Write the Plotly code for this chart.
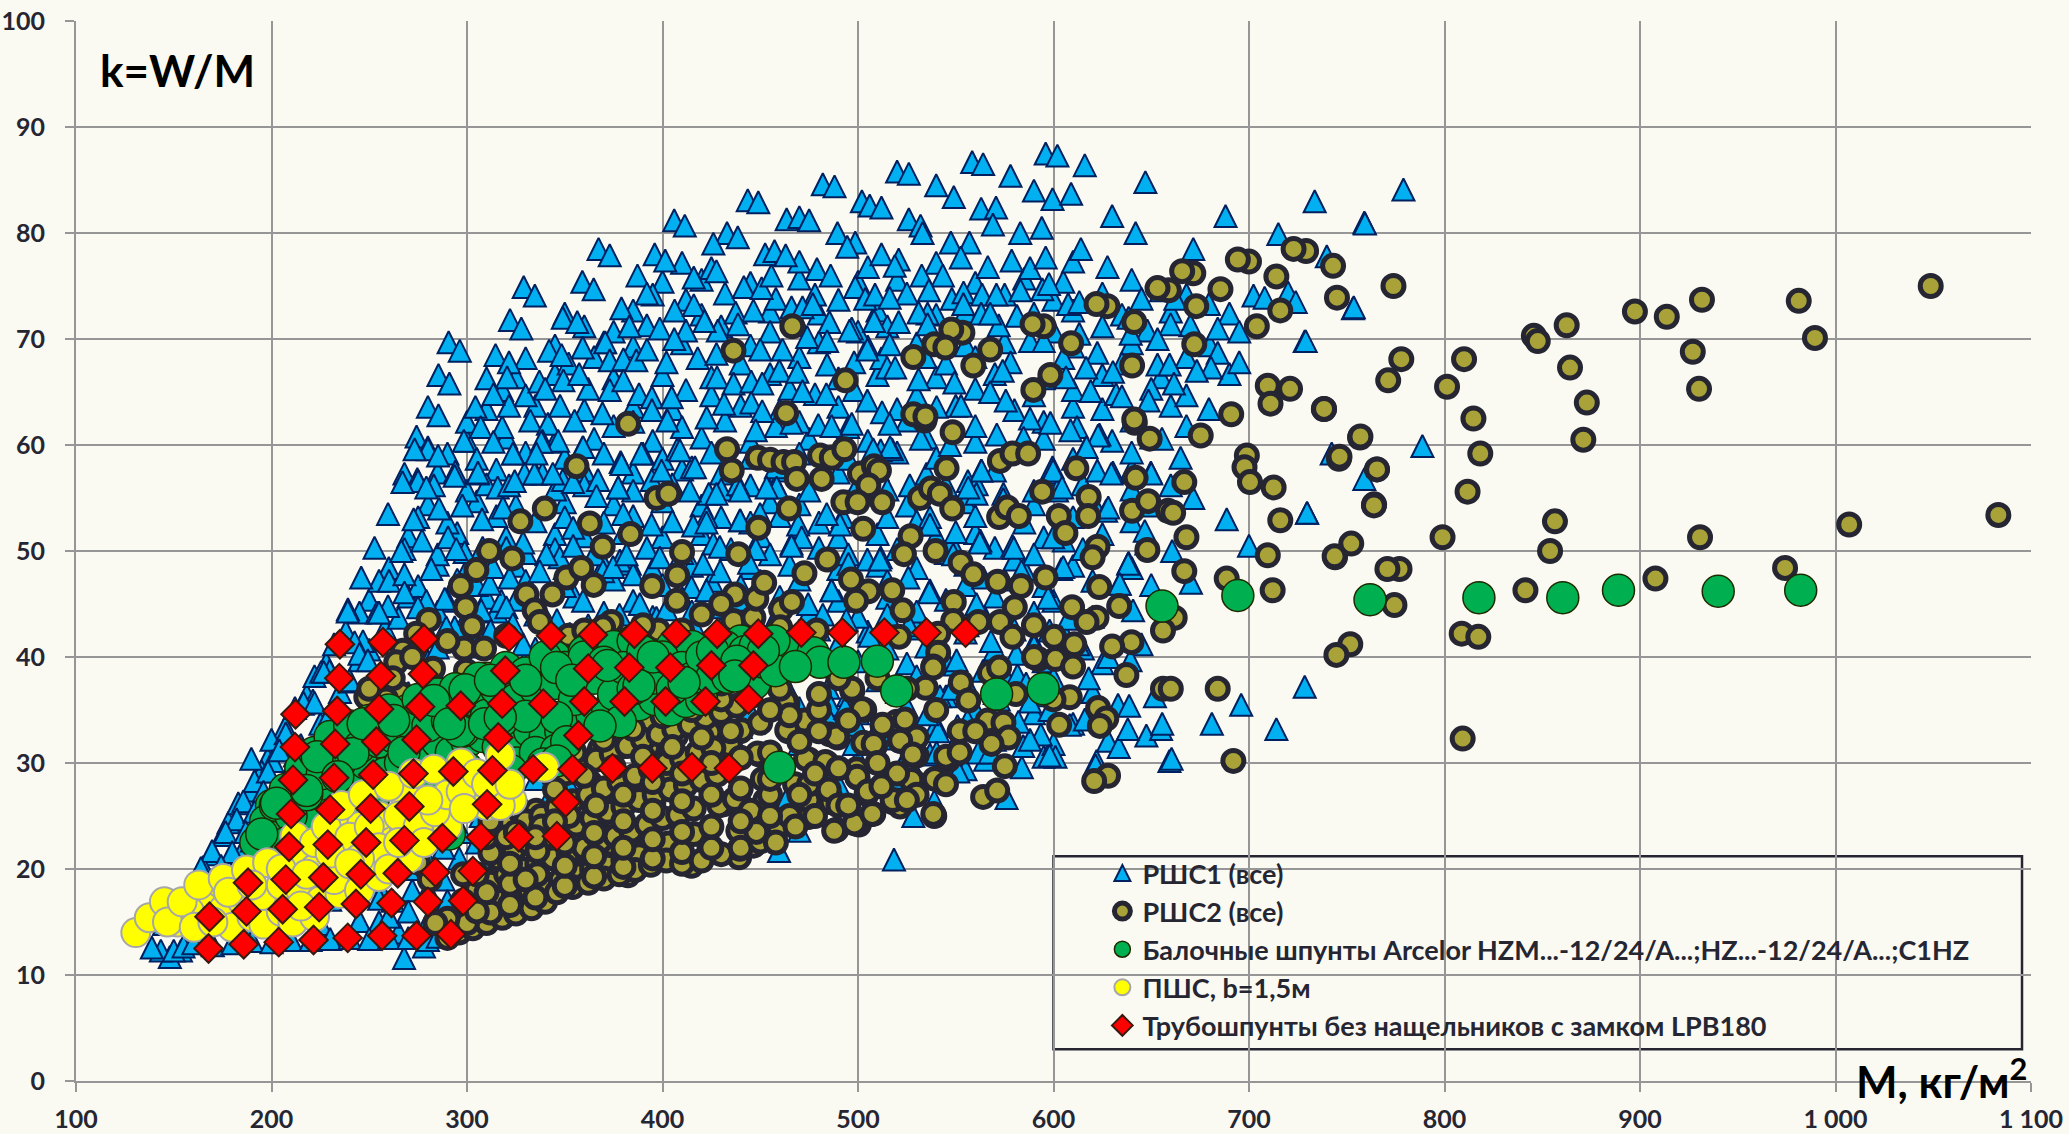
import plotly.graph_objects as go

x_tick_values = [100,200,300,400,500,600,700,800,900,1000,1100]
x_tick_labels = ["100","200","300","400","500","600","700","800","900","1 000","1 100"]
y_tick_values = [0,10,20,30,40,50,60,70,80,90,100]

names = ["РШС1 (все)","РШС2 (все)","Балочные шпунты Arcelor HZM...-12/24/A...;HZ...-12/24/A...;C1HZ","ПШС, b=1,5м","Трубошпунты без нащельников с замком LPB180"]

rsc1 = [
(400,75.4),(420,75.6),(445,75.3),(470,75.7),(500,75.4),(520,75.6),(560,75.3),(585,75.7),(605,75.4),(640,75.6),
(350,72.4),(385,72.7),(420,72.3),(455,72.6),(480,72.4),(510,72.7),(540,72.3),(555,72.6),(590,72.4),(610,72.7),(635,72.3),(660,72.6),(690,72.4),
(345,69.4),(370,69.7),(385,69.3),(410,69.6),(445,69.4),(480,69.7),(505,69.3),(530,69.6),(555,69.4),(575,69.7),(610,69.3),(640,69.6),(680,69.4),
(325,66.4),(345,66.7),(375,66.3),(400,66.6),(425,66.4),(455,66.7),(490,66.3),(510,66.6),(540,66.4),(570,66.7),(595,66.3),(625,66.6),(655,66.4),(690,66.7),
(310,63.4),(335,63.7),(360,63.3),(385,63.6),(405,63.4),(440,63.7),(460,63.3),(490,63.6),(520,63.4),(550,63.7),(580,63.3),(610,63.6),(625,63.4),(660,63.7),
(300,60.4),(320,60.7),(345,60.3),(365,60.6),(395,60.4),(420,60.7),(445,60.3),(475,60.6),(505,60.4),(535,60.7),(560,60.3),(595,60.6),(630,60.4),(650,60.7),
(285,57.4),(315,57.7),(335,57.3),(360,57.6),(385,57.4),(410,57.7),(430,57.3),(460,57.6),(490,57.4),(510,57.7),(535,57.3),(570,57.6),(600,57.4),(640,57.7),
(280,54.4),(305,54.7),(325,54.3),(350,54.6),(375,54.4),(400,54.7),(420,54.3),(455,54.6),(470,54.4),(495,54.7),(525,54.3),(555,54.6),(590,54.4),(620,54.7),(650,54.3),
(270,51.4),(295,51.7),(320,51.3),(345,51.6),(360,51.4),(380,51.7),(400,51.3),(420,51.6),(450,51.4),(470,51.7),(490,51.3),(510,51.6),(540,51.4),(560,51.7),(595,51.3),(625,51.6),
(260,48.4),(285,48.7),(300,48.3),(325,48.6),(350,48.4),(370,48.7),(395,48.3),(415,48.6),(445,48.4),(465,48.7),(490,48.3),(510,48.6),(530,48.4),(555,48.7),(585,48.3),(610,48.6),(640,48.4),
(250,45.4),(270,45.7),(290,45.3),(310,45.6),(325,45.4),(355,45.7),(385,45.3),(410,45.6),(440,45.4),(460,45.7),(490,45.3),(515,45.6),(545,45.4),(570,45.7),(600,45.3),(635,45.6),
(238,42.4),(258,42.7),(280,42.3),(300,42.6),(320,42.4),(345,42.7),(365,42.3),(390,42.6),(410,42.4),(430,42.7),(455,42.3),(480,42.6),(505,42.4),(530,42.7),(555,42.3),(580,42.6),(605,42.4),
(228,39.4),(245,39.7),(262,39.3),(280,39.6),(300,39.4),(330,39.7),(360,39.3),(385,39.6),(415,39.4),(440,39.7),(465,39.3),(500,39.6),(525,39.4),(545,39.7),(570,39.3),(595,39.6),(625,39.4),
(218,36.4),(235,36.7),(252,36.3),(270,36.6),(290,36.4),(410,36.7),(440,36.3),(465,36.6),(495,36.4),(520,36.7),(545,36.3),(570,36.6),(595,36.4),(620,36.7),
(207,33.4),(225,33.7),(242,33.3),(262,33.6),(440,33.4),(480,33.7),(510,33.3),(540,33.6),(575,33.4),(610,33.7),
(198,30.4),(212,30.7),(232,30.3),(250,30.6),(500,30.4),(525,30.7),(565,30.3),(595,30.6),
(190,27.4),(205,27.7),(225,27.3),(240,27.6),(178,24.4),(195,24.7),(212,24.3),(230,24.6),(170,21.4),(185,21.7),(200,21.3),(220,21.6),(240,21.4),(161,18.5),(175,18.7),(190,18.3),(210,18.6),(230,18.4),(245,18.7),
(255,15),(265,14),(272,18),(280,18),(288,19),(296,21),(305,22.5),(262,17),(270,20),(278,21.5),(288,22),(297,23.5),(307,25),(315,26.5),(325,27.5),(335,28.5),(345,27),(352,28),(315.8,21.9),(255,18.3),(285,16),(295,16.5),
(145,14.8),(165,15.2),(185,14.6),(205,15.3),(225,14.8),(245,15.1),(155,17),(170,17.4),(190,16.6),(210,17.3),(230,17.1),(255,17.2),(165,20.2),(180,19.7),(195,20.3),(215,19.8),(235,20.4),(175,23.2),(190,22.7),(205,23.4),(225,23),(183,26.2),(198,25.7),(215,26.3),(235,25.9),(195,29.2),(208,28.7),(225,29.3),(245,29),(480,29.3),(530,28.8),(555,29.4),(200,32.2),(215,31.7),(235,32.3),(255,32),(470,31.8),(515,32.3),(550,31.9),(570,32.2),(600,31.8),
(212,35.2),(230,34.7),(248,35.3),(270,34.9),(420,35.3),(445,34.8),(470,35.2),(500,34.7),(525,35.3),(560,35),(590,34.7),(625,35.2),
(222,38.2),(240,37.7),(258,38.3),(285,38),(345,37.8),(375,38.3),(410,37.7),(435,38.2),(455,37.8),(490,38.3),(510,37.8),(530,38.2),(555,37.7),(575,38.3),(600,38),
(232,41.2),(250,40.7),(270,41.3),(285,40.9),(305,41.3),(335,40.8),(355,41.2),(375,40.8),(400,41.3),(420,40.7),(445,41.2),(470,40.8),(490,41.3),(515,40.8),(540,41.2),(570,40.7),(590,41.3),(615,40.8),(645,41.2),
(245,44.2),(265,43.7),(285,44.3),(300,43.8),(315,44.3),(340,43.7),(370,44.2),(395,43.8),(415,44.3),(445,43.7),(475,44.2),(500,43.8),(530,44.3),(565,43.7),(590,44.2),(620,43.8),
(255,47.2),(275,46.7),(295,47.3),(305,46.8),(330,47.2),(350,46.7),(375,47.3),(400,46.8),(425,47.2),(440,46.7),(470,47.3),(500,46.7),(515,47.2),(555,46.8),(575,47.3),(595,46.7),(620,47.2),(650,46.8),
(268,50.2),(285,49.7),(308,50.3),(330,49.8),(345,50.2),(365,49.7),(392,50.3),(410,49.8),(435,50.2),(455,49.7),(480,50.3),(495,49.7),(520,50.2),(545,49.8),(570,50.3),(590,49.7),(615,50.2),
(275,53.2),(290,52.7),(315,53.3),(335,52.8),(350,53.2),(370,52.7),(385,53.3),(405,52.8),(430,53.2),(445,52.7),(460,53.3),(480,52.7),(515,53.2),(530,52.8),(560,53.3),(585,52.7),(610,53.2),(640,52.8),
(283,56.2),(300,55.7),(310,56.3),(345,55.8),(360,56.2),(385,55.7),(405,56.3),(430,55.8),(445,56.2),(475,55.7),(500,56.3),(515,55.8),(545,56.2),(590,55.7),(615,56.3),(640,55.8),(660,56.2),
(290,59.2),(305,58.7),(330,59.3),(350,58.8),(370,59.2),(400,58.7),(425,59.3),(445,58.8),(470,59.2),(495,58.7),(520,59.3),(540,58.8),(575,59.2),(610,58.7),(640,59.3),(665,58.8),
(300,62.2),(318,61.7),(355,62.3),(375,61.8),(385,62.2),(410,61.7),(432,62.3),(458,61.8),(470,62.2),(495,61.7),(525,62.3),(560,61.8),(595,62.2),(612,61.7),(640,62.3),(668,61.8),
(318,65.2),(330,64.7),(362,65.3),(388,64.8),(412,65.2),(425,64.7),(465,65.3),(478,64.8),(498,65.2),(530,64.7),(560,65.3),(590,64.7),(610,65.2),(632,64.8),(650,65.3),(668,64.7),
(330,68.2),(352,67.7),(365,68.3),(402,67.8),(418,68.2),(440,67.7),(470,68.3),(498,67.8),(512,68.2),(545,67.7),(560,68.3),(578,67.8),(605,68.2),(635,67.7),(668,68.3),(695,67.8),
(360,71.2),(375,70.7),(392,71.3),(412,70.8),(430,71.2),(455,70.7),(470,71.3),(500,70.7),(515,71.2),(548,70.8),(572,71.3),(600,70.7),(625,71.2),(648,70.8),(670,71.3),(695,70.7),
(395,74.2),(412,73.7),(432,74.3),(458,73.8),(478,74.2),(490,73.7),(525,74.3),(548,73.8),(575,74.2),(600,73.7),(625,74.3),(645,73.8),(668,74.2),
(410,77.2),(425,76.7),(470,77.3),(505,76.8),(540,77.2),(588,76.7),(610,77.3),
(596,87.5),(602,87.3),(616,86.4),(558.4,86.7),(564,86.5),(520,85.8),(526,85.6),(482,84.6),(488,84.4),(443.6,83.1),(449,82.9),(578,85.4),(590,84),(540,84.5),(549,83.4),(599.5,83.2),(609,83.7),(647,84.8),(502,83),(506,82.6),(512,82.4),(463.5,81.3),(470,81.5),(475,81.2),(630,81.6),(688,81.6),(733.6,83),(759,81),(715,79.9),(526,81.3),(532,80.7),(533,80),(563,82.3),(570.6,82.4),(569,80.8),(583,80),(594,80.5),(642,80),(614,78.5),(627.6,76.8),(671.5,78.5),(433,80),(438.5,79.6),(426,79),(489.5,80),(498.6,79.1),(494.5,78.7),(452.5,78),(457.3,78.3),(463,77.9),(512,78),(520.8,77.5),(518.8,76.9),(547.5,79.1),(557,79.1),(552.6,77.7),(566.4,76.8),(578.6,77.4),(596,77.7),(479,76.6),(486,76),(532.6,76),(543.4,76),(554,74.4),(779,84.1),
(290.6,69.7),(296.3,68.9),(285.4,66.6),(291,65.8),(280,63.6),(285.4,62.8),(274.2,60.8),(280,59.8),(268,57.3),(274.6,56.8),(294,57.5),(314.6,68.5),(321.5,67.8),(320.5,66.4),(310,66.3),(329,74.9),(334.7,74.1),(322,71.8),(327.8,71),(359,75.4),(364.8,74.7),(367.3,78.5),(373,77.9),(396,78),(401.4,77.4),(406,81.2),(411.4,80.7),(387.2,76),(392,74.3),(379,72.9),(383,71.2),(349,72),(356.4,71.6),(398.6,71),(406.2,72.7),(416,75.8),(416,73.2),(342,68.9),(348.4,68.5),(359.2,69.2),(370.7,69.7),(373,68),(380,68.1),(386.6,68),(392,69),(406,70),(337,66),(340,65.3),(349.3,66.1),(357.4,66.7),(373,65.2),(380,66.1),(321.5,63.7),(304.3,63.6),(313.5,64.8),(332.4,62.3),(341.4,62),(347.6,63.7),(369.3,63),(394.6,64.5),(404.7,64.5),(394.6,63.3),(402.5,62.3),(307,61.7),(298.4,60.4),(313.5,60.3),(323.7,59.2),(338.6,60.4),(346.6,60.4),(359.2,59.8),(378.6,58.4),(390,59.2),(407.5,59.6),(305.5,57.3),(315.7,56),(329.4,57.3),(338.6,57.3),(349,56.7),(367,56.7),(377.4,56),(394.5,56.7),(415,57.9),
(441.6,74.9),(450.7,74.8),(455.7,76),(427.6,76.4),(498.6,74.9),(503.7,73.8),(508.7,74.2),(516.2,73.9),(536.3,74.6),(563.5,74.2),(570.8,74.2),(583.1,74.6),(594.3,74.7),(597.7,75.2),(607.5,73.3),(613.2,73.5),(655,74.6),(662.3,73.8),(679.5,73.3),(702.3,74.1),(708,73.9),(720,74.4),(723.9,73.5),(753.2,72.9),(728.5,69.8),
(437.4,72.5),(446.5,72.7),(466,73),(471.6,73),(476.9,73.3),(485.4,71.6),(496.8,71),(508.2,71.7),(520.8,71.6),(535.6,72.4),(531,72.5),(535.6,71.4),(553.9,73.3),(563,72.4),(567.6,72.4),(581.3,72.2),(613.2,70.5),(638.4,72),(639.5,70.5),(659.9,71.4),(684,71),(653.2,70),(428.3,70.8),(438.6,71.4),(421.5,71.7),(427.6,68.6),(450,69),(461.4,69),(474,70.2),(484.2,69.8),(495.7,70.8),(504.8,69),(516.2,69.5),(534.5,68.3),(588,69.8),(595,69.8),(622.4,68.7),(653.2,67.6),(659.4,67.6),(684,68.7),(680.6,67.3),(673.3,67),(630.4,66.9),(616.7,67.3),
(427.9,66.4),(436.3,65.8),(445.4,66),(451,65.8),(459.8,67),(469,66.9),(484.2,67.6),(514.9,67.3),(519,67.3),(531,66.2),(549.3,65.9),(574,67),(606.4,66.4),(619,65.1),(635,64.6),(648.6,64.2),(679.5,63.4),(661.6,65.8),(567.6,65),(575.6,64.2),(552.7,63.7),(588,62.5),(598.4,62.1),(608.7,61.4),(623.5,61),(431.5,63.9),(445.4,64),(451,63.2),(422.6,62.6),(471.6,65.1),(483.8,64.8),(504.8,64.2),(512.3,63.1),(540.2,63.6),(571,61),(584.7,60.7),(655.5,60.6),
(447.7,61.4),(466,62.1),(479.7,61.9),(486.5,61.8),(496.8,62),(516.2,62),(532.2,60.6),(616.7,59.8),(622.4,57.6),(630.4,57.4),(599.5,57.9),(563,57.6),(547,60),(649.8,57.4),(671.5,55),(688.6,53),(729.7,53.6),(700,50.5),(660.7,50),(647.5,50.7),(638.4,48.9),(670.3,47),(633.8,46.9),(604,48.3),(605.3,51),(579,50.5),(562.6,51),(548.2,50.7),(526.5,56.2),(511.6,59.5),(517.4,59.6),(466,50.7),(447.7,50.2),(429.5,48.1),(450,47.2),(486.5,46.3),(504.8,49.2),(511.6,49.4),(536.8,46.3),(580,49.2),(574.4,55.4),(601.8,55.7),(626.9,53.8),(422.6,53.2),(439.7,52.9),(458,56.2),(458,57.9),(438.6,56.3),(423.7,55.4),(469.4,52.5),(426,50.7),(444.3,48.9),(492.2,53.2),(536.8,52.5),(536.8,53.2),(556.2,56.6),(560.7,56.3),
(259.6,53.5),(272.7,53),(252.7,50.3),(266.4,50),(277,51),(245.9,47.5),(260.1,47.2),(268,47.8),(239.1,44.5),(253.9,44.2),(259.6,44.8),(281.7,48.3),(268,46.1),(288.6,45.5),(275,56.6),(267,56.5),(279.2,56),(280,59.6),(273.2,59.6),(285.2,59),(293.7,57.1),(305.6,57.4),(321.5,56.2),(324.4,56.6),(334.5,57.3),(343.9,57.3),(354.2,56.5),(285.7,54),(297.6,54.3),(307.7,53),(318.4,54.1),(290.3,51.3),(298.8,49.9),(294.5,50.2),(323.5,59.2),(338,60.3),(335.5,59.2),(359.4,59.8),(379,58.2),(389.2,59.2),(399.5,57.6),(408.9,59.5),(416.6,57.9),(366.2,55.2),(379.9,53.5),(354.3,52.2),(347.4,49.4),(340.6,49.7),(394.4,52.5),(377.3,56),(414,55.7),(415.7,52.4),(422.5,52.7),(427.6,55.4),(398.6,49.4),(383.3,48.8),(378.2,49.1),(385,47.8),(420.8,48.8),(429.3,50.4),(328.7,50.8),(320.1,50.3),(337.2,48.1),(369.6,48.1),(354.3,50.5),(359.4,45.3),(317.6,45.3),(311.6,46.9),(374.7,48.5),(388.4,45),(396.9,43.7),(414.8,46.6),(422.5,46.3),(431,44.7),(352.6,42.2),(381.6,49.7),(320.1,44.7),(313.3,48.5),(321.8,47.5),(307.3,44.4),(279.2,45.3),(274.9,44.7),(293.7,42.8),(289.4,42.8),(323.5,43.1),(328.7,41.2),(246.8,41.5),(242.5,41.4),(225.4,38.6),(229.7,38.7),(221.2,35.9),(216,35.6),(240,37.8),(245,40.3),(249.3,39.7),
(189.7,30.4),(191.3,28.3),(239,44.3),(255,44.2),(226.7,38.6),(216.4,35.7),(222,35.7),(207.3,32.8),(200.5,30.2),(204,31.2),(185.6,26.4),(182.2,24.7),(176.5,23.5),(169.6,21.7),(163.9,20.1),(153.7,12.3),(148,11.7),(143.4,12.3),(138.8,12.6),(267.8,11.6),(278,12.7),(198.2,29.2),(195.9,27.3),(191.3,25.4),(186.8,23.5),(179.9,21.6),(174.2,20.3),
(150,12.3),(155,12.7),(160,13),(170,12.8),(180,13),(190,13.2),(200,13.1),(210,13.3),(220,13.3),(230,13.4),(240,13.5),(250,13.4),(260,13.5),(270,13.5),(280,13.3),(285,13.6),(260,15.5),(270,16),(280,15),(290,17),(300,18),(310,20),(320,22),(330,24),(340,26),(360,20),(375,21),(395,24),(410,24),
(459.6,21.7),(470,23.6),(518.4,20.9),(528.3,25),(539,26.4),(601,30.6),(583.8,29.6),(584.5,31.6),(593.5,32.7),(588,32.2),(561.5,31),(567.5,31),(550.9,33.5),(541,33),(535.4,34.6),(541.9,36.3),(549.6,39.3),(581.6,38.3),(588,35.8),(608.3,33.6),(616,34.1),(622,30.2),(627.9,32.1),(633.4,31.5),(633,35.5),(638.7,35.4),(647.5,32.6),(655,33.2),(659.3,30.2),(651.9,36.3),(518,28.6),(509.9,30.5),(490,28),(498,31.8),(484.8,37.1),(485.6,35.5),(484,34.6),(493.4,35.2),(499,33.6),(522.3,29.6),(536.8,30.8),(551.3,29.2),(540.2,31),(576,26.7),(463.5,26.6),(485.7,28.3),
(759.3,80.9),(739.8,77.8),(753.6,73),(729,69.8),(788.7,59.9),(742.3,59.2),(759,56.8),(729.7,53.6),(728.5,37.2),(696,35.5),(714,33.2),(681,33.7),(660.4,30.4),(655.6,33.7),(638,33.2),(621.5,29.8),(598,30.7),(582,33.9),
(563.2,57.6),(560.6,55.4),(556.4,56),(574.3,54.9),(579.7,50.3),(562.3,50.8),(599.8,57.6),(604.4,56),(629.6,57.3),(650,57.3),(628,54.1),(646.7,51.9),(638.2,48.8),(605,48.5),(622.8,60.9),(616.9,59.8),(597.3,45.6),(633.9,46.9),(640.7,44.4),(607.5,43.6),(536.5,46.1),(525.7,47.5),(511.2,49.2),(495.1,48.8),(486.5,46.3),(474.5,45),(536.8,52.5),(550,51.8),(548.7,49.7),(564,47.5),(583.6,48.1),(516.4,59.8),(507.8,59.6),(490.8,52.5),(484,53.5),(471.2,51.3),(466,50.5),(458.4,56),(439.7,55.7),(453.3,56),(439.7,52.9),(449.9,53.5),(560.6,45),(581,40.3),(550.4,39.7),(564,38.7),(639.4,39.7),(599.8,51.3),(604,41.9),(612.6,41.2),(586,37.5),
(434,42.5),(445,41),(456,43),(470,42.5),(482,44),(494,43.5),(506,42),(515,44),(526,43),(535,41),(556,43),(568,41.5),(590,41),(598,42.5),(548,37),(556,34),(572,36),(598,35),(618,38),(628,40),(300,41),(312,42.5),(335,44),(346,43.5),(362,43),(378,44),(402,44.5),(416,43),(424,41.5),
]

rsc2 = [
(433,59.6),(435.4,57.6),(448.7,58.8),(455,58.6),(461.9,58.4),(467.3,58.4),(468.7,56.8),(481.4,56.8),(480.6,59),(486.6,58.8),(493,59.6),(501,57.3),(508.2,58),(510.7,57.6),(505.3,56.2),(492.5,54.6),(499.8,54.6),(512.4,54.6),(502.7,52.1),(464.7,54),(449,52.2),(438.8,49.7),(484.3,49.2),(472.6,47.9),(437,45.9),(460.7,44.5),(466.2,45.2),(436.3,43.4),(446.5,43.7),(460.2,42.8),(478.9,42.5),
(496.4,47.3),(505.3,46.2),(499,45.3),(517.5,46.3),(522.8,44.4),(526.9,51.4),(523.5,49.7),(539.7,50),(552.5,48.9),(559,47.8),(571.4,47.1),(583.3,46.7),(580.2,44.7),(572.6,43.3),(579,41.9),(595.9,47.5),(549,45.2),(548.7,43.4),(561.5,43.3),(521,41.9),(541,42.2),(541,40.4),(538.5,39.1),(531.7,55),(537.3,55.9),(541.9,55.4),(548.2,54),(545.3,57.8),(548.4,61.2),(572.6,58.5),(579,59.2),(587,59.2),(572.2,53.2),(576.3,54.1),(582.3,53.3),(594.2,55.6),(611.7,57.8),(618,55.1),(602.7,53.3),(617.7,53.3),(606.1,51.7),(622.5,50.4),(620,49.4),(623.4,46.6),(633.6,44.8),(609.5,44.7),(622,43.7),(616.9,43.3),(600.3,41.9),(610.6,41.2),(592.2,39.8),(601,39.8),(610,39.1),(639.9,41.4),(637.3,38.3),(656,37),(648,50.1),(642,56.9),(640.2,53.8),(648.4,54.7),(658.6,53.8),(649.2,60.6),(641.6,62.1),(534,62.3),
(538.5,39),(534.6,37.1),(552.6,37.6),(556.4,35.9),(567.5,38.5),(572.2,39),(580.7,36.5),(608.3,36.2),(602.9,33.6),(566.3,34),(574.4,33.8),(577,32.4),(568.3,31.8),(575.1,29.7),(564,26.8),(571.2,27.4),(622.8,35.2),(627,34.2),(623.7,33.5),(627.9,28.8),(620.8,28.3),
(497.1,36.8),(503.2,35),(513,33.5),(519.8,33.9),(524,34.1),(521.5,32.1),(508.7,31.6),(502.7,31.9),(530,30.7),(546.2,30.3),(530,32.4),(528,28.3),(539.9,28.5),(499.8,28.6),(504.4,27.1),(518,26.3),(521.5,25.9),(539,25),(507.8,25.2),(500.5,24.2),(489,23.7),(486.6,26.3),(475.5,26.4),(474.6,24.9),(459.6,24),(453.8,26.5),(445.1,24.4),(439.7,21.8),(446.5,22.2),(439.2,21.1),(438.8,26.4),(449.6,30.8),(464.4,33),(472.9,33.9),(463.9,35.6),(475,30.3),(484,30),(489.6,32.4),(485.6,32.7),(499.3,29.4),(467.8,28),(451.3,28.5),(434.6,31.4),(439.7,33),(431.2,26.1),(438.8,23.6),
(356,58),(382.4,62),(339.8,54),(327.3,52.8),(362.8,52.6),(369.4,50.4),(383.6,51.6),(397,55),(403,55.4),(410,49.9),(311.3,50),(323.2,49.3),(304.8,48.2),(296.8,46.7),(299.3,44.7),(302.7,42.9),(298.5,40.8),(308.7,40.8),(330.4,45.9),(343.7,45.9),(350.9,47.5),(358.5,48.4),(364.8,46.8),(394.7,46.7),(407.5,47.7),(407.2,45.3),(334.6,44.4),(337.2,43.3),(373.9,43.3),(369.6,42.8),(397.8,42.5),(280.4,43.5),(274,42.2),(267.2,40.6),(263.8,39.5),(282.6,38.9),(266.4,36.5),(248.5,36.2),(258.7,36),(299.5,38.7),(340.6,40.4),(370.5,40.6),(380.7,40.6),
(1048.7,75),(981.2,73.6),(931.7,73.7),(897.4,72.6),(913.7,72.1),(862.5,71.3),(845.7,70.3),(847.7,69.8),(989.5,70.1),(927,68.8),(930.2,65.3),(864.2,67.3),(872.8,64),(871,60.5),(810,68.1),(801.3,65.5),(814.8,62.5),(818.3,59.2),(811.8,55.6),(856.5,52.8),(854,50),(799,51.3),(930.7,51.3),(1007,52.5),(1083.3,53.4),(974.2,48.4),(907.9,47.4),(841.4,46.3),(774.4,44.9),(777,48.3),(752.3,50.7),(744,49.4),(764,54.4),(765.4,57.7),(746,58.7),(756.8,60.7),(738.3,63.4),(771.2,66.1),(777.9,68.1),(773.9,75),(745,73.9),(743,76.9),(729.2,78.3),(808.8,42.2),(817.3,41.9),(751.8,41.2),(744.7,40.2),(809.3,32.3),
(722.8,78.5),(714,75.9),(700,77.3),(694.3,77.5),(671.5,76.2),(665.8,76.4),(685.4,74.7),(659,74.6),(653.2,74.8),(673,73.1),(716,72.7),(704,71.2),(672,69.5),(627.6,73.1),(622,73.3),(641.3,71.6),(595,71.2),(589.3,71.4),(609,69.6),(553.4,70.6),(547.7,70.9),(539,69.5),(544.7,69.2),(567.6,69),(559,67.5),(528.3,68.3),(598.4,66.6),(589.7,65.2),(466.4,71.2),(436.3,68.9),(493.6,66.1),(463.2,63),(528.3,62.9),(534.5,62.7),(640.2,67.5),(690.9,62.9),(709.6,65.6),(711,63.9),(721,65.3),(738.4,63.4),(757,60.8),(675.3,60.9),(641.3,62.4),(698.9,59),(697.7,57.9),(700.5,56.5),(712.6,56),(746.3,58.9),(765.5,57.7),(763.9,54.3),(716,52.9),(666.9,56.5),(661.2,53.6),(668,51.3),(666.9,48.1),(709.6,49.6),(743.8,49.5),(688.6,47.4),(712.1,46.3),(770.8,48.3),
(394,34),(407,32.6),(414.8,33.7),(424,32.9),(434.4,31.7),(440.4,33.1),(448.7,30.9),(463,35.8),(472.6,34),(463.8,33.1),(473.4,30.4),(483.3,30.1),(489,32.5),(496.9,37),(502,35.1),(512.5,33.6),(508,31.8),(521.6,32.1),(528,30.8),(499.5,28.7),(505,27.3),(527.3,28.4),(539.3,28.5),(545,30.6),(517.7,26.5),(498.2,24.3),(487.8,23.6),(507.3,25.2),(538.5,25.2),(474.7,26.5),(486.5,26.3),(459.1,24.1),(439.6,21.9),(444.8,24.6),(452.6,26.5),(424,22.2),(429,26),(411,26.2),(390,23.5),(403,22.4),(414.8,20.3),(395.3,20.8),(382.3,19.4),(371.9,19.7),(360.2,20.3),(343.2,18.1),(327.6,17),(313.3,15.6),(301.6,14.7),(284.6,15),(314.6,19.2),(327.6,19.4),(318.5,24.3),(335.4,25.5),(362.8,28.2),(365.4,25.8),(377,27),(378.4,31.5),(368,31.3),(392.7,31.5),(373.2,22.4),(365.4,23.6),(374.5,24.9),(360.2,21.6),(384.9,21.1),(395.3,26.2),(403,28.4),(416,23.3),(429,29.3),(437,26.6),
(290,13.5),(296,14),(303,14.4),(310,14.9),(318,15.4),(325,15.8),(333,16.3),(340,16.9),(300,16),(308,16.6),(316,17),(324,17.5),(332,18),(340,18.6),(348,19),(356,19.5),(364,20),(372,20.3),(380,20.8),(388,21.3),(305,18),(312,18.7),(320,19.5),(328,20),(336,20.5),(344,21),(352,21.5),(360,22),(368,22.6),(376,23.1),(384,23.6),(392,24.2),(400,24.8),(408,25.1),(416,25.7),(316,21),(324,21.8),(332,22.4),(340,23),(348,23.6),(356,24.2),(364,24.8),(372,25.4),(380,25.9),(388,26.5),(396,27),(404,27.5),(412,27.9),(420,28.4),(428,28.9),(330,24.5),(338,25),(346,25.8),(354,26.4),(362,27),(370,27.6),(378,28.2),(386,28.8),(394,29.4),(402,30),(410,30.4),(418,31),(426,31.4),(350,29),(358,29.7),(366,30.3),(374,30.9),(382,31.6),(390,32.2),(398,32.7),(406,33.2),(414,33.6),(422,34.3),(430,34.8),(438,35.4),(346,17.8),(354,18.3),(362,18.7),(370,19.1),(378,19.5),(386,19.9),(394,20.4),(402,20.8),(410,20.5),(420,20.8),(430,21.4),(440,22),(450,22.6),(445,25.5),(455,27),(465,25),(475,28),(485,27.5),(448,23.5),(458,22.5),(468,24),(478,25),(490,26),
(300,14.9),(312,15.9),(322,16.6),(335,17.3),(350,18.4),(365,19.3),(380,20.2),(395,21),(410,21.6),(425,22),(310,17.8),(322,18.6),(336,19.5),(350,20.3),(365,21.2),(380,22),(395,22.8),(410,23.5),(425,24),(440,24.5),(455,25),(322,20.5),(336,21.7),(350,22.5),(365,23.4),(380,24.5),(395,25.5),(410,26.4),(425,27),(440,27.6),(455,28.5),(470,27),(338,24),(352,25),(366,26),(380,27),(395,28.2),(410,29),(425,30),(440,30.5),(455,31),(470,32),(345,27.5),(360,28.8),(375,29.6),(390,30.6),(405,31.5),(420,32.4),(435,33),(450,33.8),(465,34.5),(480,35),(355,31),(370,32.2),(385,33.2),(400,34.4),(415,35),(430,36),(445,36.3),(460,37),(478,29),(490,29.5),(510,30),(480,33),(495,34),(520,29),(530,27),(545,28),(552,31),(495,26),(512,27.8),(525,26.5),
(250,37),(262,38),(272,40),(290,41.5),(320,42),(352,42),(360,42.5),(390,43),(410,42.5),(420,44),(430,45),(448,45.5),(452,47),(420,36),(430,37.5),(445,37),(455,35),(480,36.5),(490,38),(510,38),(525,37),(540,35),(552,33),(560,33),(590,40),(600,36),(590,43),(630,41),(660,37),(684,37),(692,30.2),(662,43.7),(656,42.5),
(275,20.6),(281,19),(290,15.3),(298,17),(305,19.5),(298,19.5),(312,21.5),(310,23),(320,23),(330,19),(305,16),(283.8,14.9),(312,24.5),(325,23.5),(335,23),(345,24.5),
]

green = [
(240,28),(248,30),(255,28.5),(262,30.5),(270,31),(278,30),(285,32),(292,31),(300,32),(308,32.5),(316,31.5),(324,32.5),(332,33),(340,32.5),(348,33),(356,33.5),(364,34.5),(372,35),(380,36),(388,35.5),(396,36),(404,35),(412,35.8),(420,36),(228,26),(236,27),(244,26),(252,26.5),(258,29),(275,28),(283,28),(300,29.5),(325,30),(335,31),(212,24),(220,25),(205,24.5),(225,28),(235,24),(300,37),(310,38),(290,36.5),(280,36),(270,35),(255,33.5),(345,40),(360,40.5),(375,41),(385,41.5),(405,41),(415,41),(465,41),(440,41.5),(200,26),
(192,22.5),(197,24.5),(202,26),(200,23),(207,27.5),(210,25),(208,22.5),(215,29.5),(218,27),(222,31),(226,29),(230,32.5),(235,30),(240,33.5),(245,31.5),(250,34),(255,32),(260,35),(262,32.5),(266,30),(270,33.5),(275,36),(280,33.5),(285,36.5),(290,34),(294,37),(298,33),(302,36),(306,38),(310,34.5),(315,37),(320,39),(318,34),(325,36),(330,38.5),(335,37),(340,40),(345,37.5),(350,39),(355,36),(360,40),(365,38),(370,39.5),(375,36.5),(380,39),(385,37),(390,40.5),(395,38),(400,40),(405,37),(410,39),(415,38),(420,40),(425,38),(428,40.5),(432,41),(437,39),(442,40.5),(447,37.5),(452,39.5),(457,41.5),
(345.8,34.3),(330,34.4),(296.4,33),(267.7,31),(241.7,30.9),(223.4,30.6),(202.6,26.2),(195,23.3),(218,27.4),(233.9,28.7),(246.9,33.7),(262.5,34),(283,35.9),(299,36.9),(312,37.8),(330,37.8),(345.8,39),(353.6,37.8),(371.9,39.2),(388,37.3),(395.3,40),(411,37.6),(425.6,40.6),(433.4,38.1),(447.4,41),(457.8,38.7),(345.8,31.2),(339,29.9),(291,33.7),(309,33.7),(317,34.3),(291,23.3),(322.4,29.3),(351,32),(378.4,33.9),(368,33.5),(345.8,30.2),
(451.6,40.6),(438,39.6),(437,38.2),(477,40.4),(480.6,39.5),(468,39.1),(492.8,39.5),(509.9,39.6),(519.8,36.8),(570.9,36.5),(594.7,37),(459.8,29.6),(655.5,44.8),(694.3,45.8),(761.9,45.4),(817.6,45.6),(860.5,45.6),(889,46.3),(940,46.2),(982.2,46.3),
]

yellow = [
(225,19),(235,22.5),(250,21.5),(262,24),(268,27),(290,24),(300,28),(310,26),(255,25),(245,24),(232,25),(220,21),(210,19),(200,17),(190,16.8),(182,15.5),(172,17),(165,16.5),(158,16),(152,15),(268,24),(323,26.5),
(130.6,14),(137.5,15.4),(145.2,16.9),(146.8,15),(154.3,16.9),(160.5,14.5),(162.8,18.5),(175.3,19.1),(175,16.1),(187.2,19.9),(198,20.6),(180,14.5),(190,15.5),(200,15),(196,14.8),(205,16),(211,15),(222,15.5),(185,17),(195,17.5),(205,18.5),(215,18),(225,17),(235,17.7),(212,21),(222,20),(232,19),(245,18),(255,19.3),(212,23.1),(222,22.5),(228,24),(235.8,26),(247,27),(240,23),(250,24),(260,27.8),(255,22),(265,25),(272.6,29),(270,21),(275,24),(278,22.5),(283,29.4),(283.8,25.4),(290,27),(297,30),(297,27.3),(298.6,25.7),(305,29),(317,30.7),(317,26),(310,28),(322,28),(339.6,29.6),(245,21),(260,20),(265,22.5),(280,26.5),(230,21.5),(240,20.5),(215,16.5),(170,15),(178,17.8),(190,18.5),(205,20),(218,19.5),
]

pipe = [
(167.8,12.5),(185.8,12.9),(203.7,13.1),(221.5,13.3),(239,13.5),(256.6,13.7),(274.2,13.7),(291.8,13.85),
(168.3,15.5),(187.2,16),(205.7,16.2),(224.4,16.4),(243.2,16.7),(261.4,16.8),(280,16.9),(298,17),
(188,18.7),(207.3,19),(226.5,19.2),(245.7,19.5),(264.6,19.6),(283.8,19.7),(303,19.8),
(209,22.1),(228.8,22.3),(248.4,22.5),(268,22.7),(287.4,22.9),(307,23),(326.5,23),(346,23.1),
(210,25.2),(230,25.6),(250.7,25.7),(270.5,25.9),(310.3,26.1),(350.5,26.3),
(211,28.4),(232,28.6),(252,28.9),(272.6,29),(293,29.2),(313,29.3),(333.8,29.4),(354,29.4),(374.4,29.5),(394.8,29.5),(415,29.6),(434,29.5),
(212,31.5),(232.6,31.8),(253.6,32),(274.2,32.2),(316,32.4),(357,32.6),
(212.3,34.6),(233.6,34.9),(255,35.1),(276,35.3),(296.8,35.4),(318,35.6),(339,35.6),(360,35.8),(380.6,35.8),(401.6,35.8),(422,35.8),(444,36),
(234.7,38),(256,38.2),(277.5,38.4),(319.6,38.7),(362,38.9),(383,39),(404,39),(425,39.2),(446.5,39.2),
(235,41.2),(257,41.4),(278,41.7),(321.5,41.9),(343,42),(364.4,42.1),(385.6,42.2),(407,42.2),(428,42.2),(449,42.2),(471,42.3),(492,42.3),(513.5,42.3),(535,42.3),(555,42.3),
]

def xs(points): return [p[0] for p in points]
def ys(points): return [p[1] for p in points]

FONT = "Lato, 'Noto Sans', sans-serif"
BG = "#FAFAF2"
GRID = "#969696"
INK = "#262633"

fig = go.Figure()
series = [
    (rsc1, "triangle-up", 22, "#00B0F0", "#002060", 2),
    (rsc2, "circle", 21, "#A9A238", "#262633", 5),
    (green, "circle", 32, "#00B050", "#1F2A00", 1.5),
    (yellow, "circle", 29, "#FFFF00", "#A6A6A6", 2),
    (pipe, "diamond", 22, "#FF0000", "#3A1A10", 2),
]
for i, (pts, sym, size, fill, line, lw) in enumerate(series):
    fig.add_trace(go.Scatter(
        x=xs(pts), y=ys(pts), mode="markers", name=names[i], legendgroup=str(i),
        marker=dict(symbol=sym, size=size, color=fill, line=dict(color=line, width=lw)),
    ))

axis_common = dict(showgrid=True, gridcolor=GRID, gridwidth=2, showline=True, linecolor=GRID, linewidth=2, automargin=False,
                   ticks="outside", ticklen=9, tickcolor=GRID, tickwidth=2, zeroline=False,
                   tickfont=dict(family=FONT, size=25, color=INK, weight="bold"))
fig.update_layout(
    width=2069, height=1134, margin=dict(l=76, r=38, t=21, b=53),
    paper_bgcolor=BG, plot_bgcolor=BG,
    xaxis=dict(range=[100, 1100], tickvals=x_tick_values, ticktext=x_tick_labels, ticklabelstandoff=6, **axis_common),
    yaxis=dict(range=[0, 100], tickvals=y_tick_values, ticklabelstandoff=15, **axis_common),
    showlegend=True,
    legend=dict(x=0.525, y=0.2189, xanchor="left", yanchor="top", bgcolor="rgba(0,0,0,0)", borderwidth=0,
                tracegroupgap=5, font=dict(family=FONT, size=27, color=INK, weight="bold"), traceorder="normal"),
    shapes=[dict(type="rect", xref="x", yref="y", x0=600, x1=1095.4, y0=3.0, y1=21.2, layer="below",
                 line=dict(color=INK, width=2.5), fillcolor="rgba(250,250,242,0.55)")],
    annotations=[
        dict(text="<b>k=W/M</b>", xref="x", yref="y", x=111, y=95.4, xanchor="left", yanchor="middle", showarrow=False,
             font=dict(family=FONT, size=44, color="#000000")),
        dict(text="<b>М, кг/м<sup>2</sup></b>", xref="x", yref="y", x=1099, y=0.2, xanchor="right", yanchor="middle", showarrow=False,
             font=dict(family=FONT, size=44, color="#000000")),
    ],
)

# The reference triangle is as tall as it is wide, which no built-in symbol gives: reshape the drawn symbol only.
post = """
document.body.style.margin='0';document.body.style.overflow='hidden';
var tr=document.querySelectorAll('.scatterlayer .trace')[0];
tr.querySelectorAll('path.point').forEach(function(p){p.setAttribute('d','M-11,11H11L0,-11Z');});
var lg=document.querySelectorAll('.legend .traces')[0];
lg.querySelectorAll('path.scatterpts').forEach(function(p){p.setAttribute('d','M-8,8H8L0,-8Z');});
"""
fig.write_html("out.html", post_script=post, config=dict(displayModeBar=False))
